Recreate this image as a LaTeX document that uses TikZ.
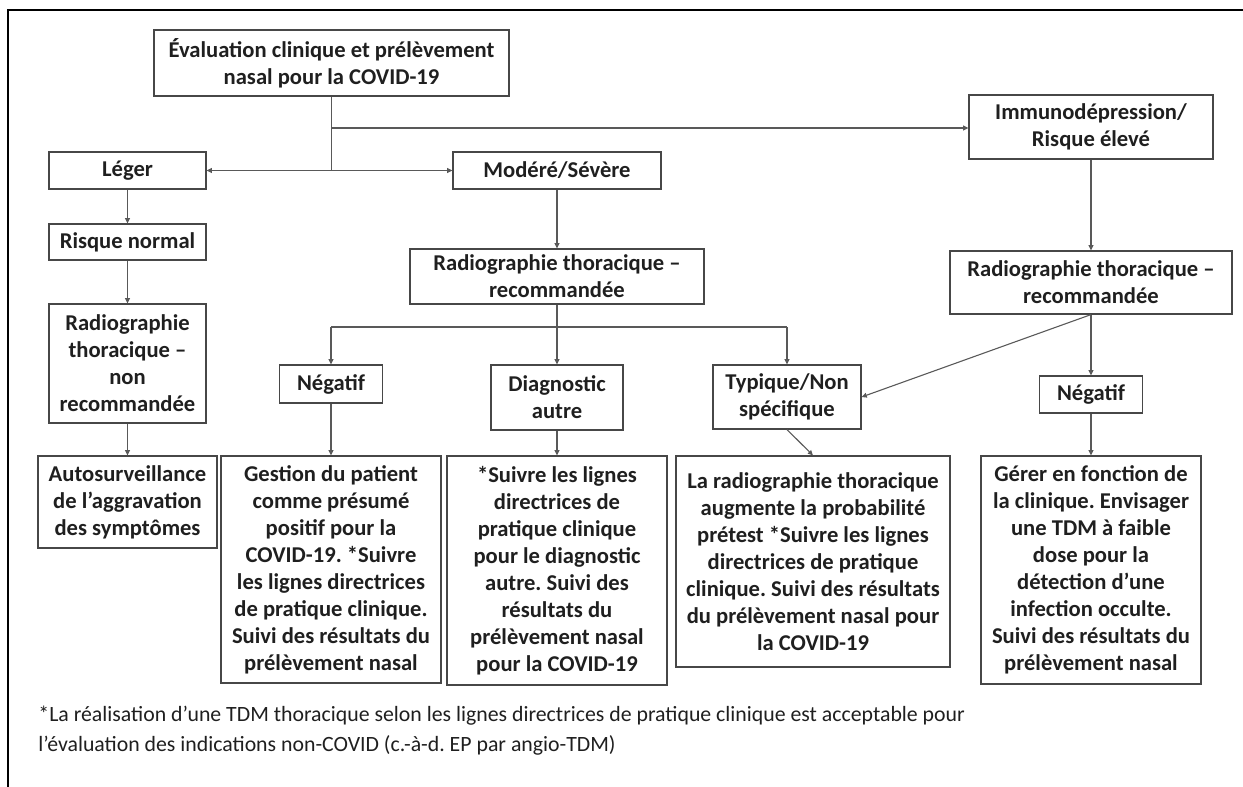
\documentclass[tikz,border=0pt]{standalone}
\usepackage{fontspec}
\setmainfont{Carlito}
\usepackage{tikz}
\usetikzlibrary{arrows.meta}
\frenchspacing

\begin{document}
\begin{tikzpicture}[x=0.5pt,y=-0.5pt,
  box/.style={draw=black!72,line width=0.6pt,inner sep=0pt,align=center,
    font=\bfseries\fontsize{11.3}{13.5}\selectfont,text=black!88},
  link/.style={draw=black!65,line width=0.55pt},
  arr/.style={link,-{Triangle[length=2.6pt,width=2.4pt]}},
  note/.style={align=left,inner sep=0pt,font=\fontsize{10.9}{15}\selectfont,text=black!88}]
\useasboundingbox (0,0) rectangle (1243,787);
\draw[line width=1.3pt] (1243,10) -- (8,10) -- (8,787);

\node[box,minimum width=177.5pt,minimum height=33pt] (eval) at (331.5,63) {Évaluation clinique et prélèvement\\nasal pour la COVID-19};
\node[box,minimum width=78.5pt,minimum height=18.5pt] (leger) at (127.5,170.5) {Léger};
\node[box,minimum width=104pt,minimum height=18.5pt] (modere) at (557,170.5) {Modéré/Sévère};
\node[box,minimum width=122pt,minimum height=32pt] (immuno) at (1091,127) {Immunodépression/\\Risque élevé};
\node[box,minimum width=78.5pt,minimum height=18pt] (risque) at (127.5,242) {Risque normal};
\node[box,minimum width=147pt,minimum height=27.5pt] (radmid) at (557,276.5) {Radiographie thoracique –\\recommandée};
\node[box,minimum width=141pt,minimum height=31.5pt] (radright) at (1091,282.5) {Radiographie thoracique –\\recommandée};
\node[box,minimum width=78.5pt,minimum height=59.5pt] (radleft) at (127.5,363.5) {Radiographie\\thoracique –\\non\\recommandée};
\node[box,minimum width=51.5pt,minimum height=19pt] (negmid) at (331,384) {Négatif};
\node[box,minimum width=66pt,minimum height=32.5pt] (diag) at (557,397.5) {Diagnostic\\autre};
\node[box,minimum width=74pt,minimum height=32pt] (typ) at (787,397) {Typique/Non\\spécifique};
\node[box,minimum width=51.5pt,minimum height=18.5pt] (negright) at (1091,394.5) {Négatif};
\node[box,minimum width=89.5pt,minimum height=46pt] (auto) at (127.5,502) {Autosurveillance\\de l’aggravation\\des symptômes};
\node[box,minimum width=110pt,minimum height=113.5pt] (gestion) at (331,569.5) {Gestion du patient\\comme présumé\\positif pour la\\COVID-19. *Suivre\\les lignes directrices\\de pratique clinique.\\Suivi des résultats du\\prélèvement nasal};
\node[box,minimum width=110pt,minimum height=114.5pt] (suivre) at (557,570.5) {*Suivre les lignes\\directrices de\\pratique clinique\\pour le diagnostic\\autre. Suivi des\\résultats du\\prélèvement nasal\\pour la COVID-19};
\node[box,minimum width=137pt,minimum height=105.5pt] (larad) at (813,561.5) {La radiographie thoracique\\augmente la probabilité\\prétest *Suivre les lignes\\directrices de pratique\\clinique. Suivi des résultats\\du prélèvement nasal pour\\la COVID-19};
\node[box,minimum width=110pt,minimum height=114pt] (gerer) at (1091,570) {Gérer en fonction de\\la clinique. Envisager\\une TDM à faible\\dose pour la\\détection d’une\\infection occulte.\\Suivi des résultats du\\prélèvement nasal};
\node[note,anchor=north west] (footnote) at (38,706) {*La réalisation d’une TDM thoracique selon les lignes directrices de pratique clinique est acceptable pour\\l’évaluation des indications non-COVID (c.-à-d. EP par angio-TDM)};

\coordinate (split) at (eval.south |- leger.east);
\coordinate (fork) at (eval.south |- 0,128);
\coordinate (branch) at (radmid.south |- 0,327);
\draw[link] (eval) -- (split);
\draw[arr] (split) -- (leger);
\draw[arr] (split) -- (modere);
\draw[arr] (fork) -- (fork -| immuno.west);
\draw[arr] (leger) -- (risque);
\draw[arr] (risque) -- (radleft);
\draw[arr] (radleft) -- (auto);
\draw[arr] (modere) -- (radmid);
\draw[arr] (radmid) -- (diag);
\draw[link] (branch -| negmid) -- (branch -| typ);
\draw[arr] (branch -| negmid) -- (negmid);
\draw[arr] (branch -| typ) -- (typ);
\draw[arr] (negmid) -- (gestion);
\draw[arr] (diag) -- (suivre);
\draw[arr] (immuno) -- (radright);
\draw[arr] (radright) -- (negright);
\draw[arr] (negright) -- (gerer);
\draw[arr] (radright.south) -- (typ.east);
\draw[arr] (typ.south) -- (larad.north);
\end{tikzpicture}
\end{document}
